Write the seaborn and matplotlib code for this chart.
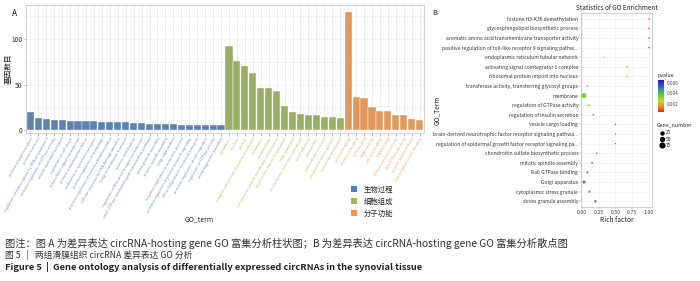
import numpy as np
import pandas as pd
import matplotlib
matplotlib.use("Agg")
import matplotlib.pyplot as plt
from matplotlib.colors import LinearSegmentedColormap, Normalize
from matplotlib.lines import Line2D
from matplotlib.patches import Patch
import seaborn as sns

# ---- panel A data: GO terms per category and gene counts
bp_terms = ["protein phosphorylation", "protein transport",
            "regulation of transcription by RNA polymerase II",
            "positive regulation of GTPase activity", "vesicle-mediated transport",
            "regulation of cell shape", "intracellular signal transduction",
            "protein autophosphorylation", "endosome to lysosome transport",
            "positive regulation of autophagy",
            "positive regulation of protein phosphorylation",
            "cellular response to DNA damage stimulus", "Golgi to endosome transport",
            "protein stabilization", "regulation of Rho protein signal transduction",
            "small GTPase mediated signal transduction pathway", "stress granule assembly",
            "mitotic spindle assembly", "Golgi organization",
            "negative regulation of apoptotic process",
            "positive regulation of protein kinase B signaling",
            "ER to Golgi vesicle-mediated transport", "positive regulation of cell migration",
            "regulation of GTPase activity", "autophagosome assembly"]
bp_counts = [20, 14, 12, 11, 11, 10, 10, 10, 10, 9, 9, 9, 9, 8, 8, 7, 7, 7, 7, 6, 6, 6, 6, 6, 6]

cc_terms = ["cytoplasm", "nucleus", "cytosol", "integral component of plasma membrane",
            "membrane", "nucleoplasm", "cytoplasmic vesicle membrane of endosome",
            "perinuclear region of cytoplasm", "Golgi apparatus",
            "endoplasmic reticulum membrane", "focal adhesion", "centrosome",
            "extracellular exosome", "cytoplasmic stress granule", "lysosomal membrane"]
cc_counts = [92, 76, 71, 63, 46, 46, 43, 27, 20, 18, 17, 17, 15, 15, 14]

mf_terms = ["protein binding", "metal ion binding", "ATP binding", "RNA binding",
            "zinc ion binding", "DNA binding", "GTPase activator activity", "Rab GTPase binding",
            "protein kinase activity", "transcription factor binding"]
mf_counts = [130, 37, 35, 25, 21, 21, 17, 17, 12.5, 11]

groups = ["生物过程", "细胞组成", "分子功能"]
group_colors = ["#4F81BD", "#9BBB59", "#F79646"]

# ---- panel B data
go_terms = ["histone H3-K36 demethylation", "glycosphingolipid biosynthetic process",
            "aromatic amino acid transmembrane transporter activity",
            "positive regulation of toll-like receptor 9 signaling pathw...",
            "endoplasmic reticulum tubular network", "activating signal cointegrator 1 complex",
            "ribosomal protein import into nucleus",
            "transferase activity, transferring glycosyl groups", "membrane",
            "regulation of GTPase activity", "regulation of insulin secretion",
            "vesicle cargo loading",
            "brain-derived neurotrophic factor receptor signaling pathwa...",
            "regulation of epidermal growth factor receptor signaling pa...",
            "chondroitin sulfate biosynthetic process", "mitotic spindle assembly",
            "Rab GTPase binding", "Golgi apparatus", "cytoplasmic stress granule",
            "stress granule assembly"]
rich_factor = [1.0, 1.0, 1.0, 1.0, 0.33, 0.67, 0.67, 0.08, 0.03, 0.10, 0.17, 0.5, 0.5, 0.5,
               0.22, 0.15, 0.08, 0.03, 0.11, 0.20]
pvalues = [0.0007, 0.0007, 0.0007, 0.0007, 0.0026, 0.0017, 0.0017, 0.0029, 0.0034, 0.0031,
           np.nan, np.nan, np.nan, np.nan, np.nan, np.nan, np.nan, np.nan, np.nan, np.nan]
gene_number = [1, 1, 1, 1, 1, 2, 2, 5, 85, 8, 4, 1, 1, 1, 3, 6, 8, 30, 10, 15]

caption1 = "图注：图 A 为差异表达 circRNA-hosting gene GO 富集分析柱状图；B 为差异表达 circRNA-hosting gene GO 富集分析散点图"
caption2 = "图 5   |   两组滑膜组织 circRNA 差异表达 GO 分析"
caption3 = "Figure 5  |  Gene ontology analysis of differentially expressed circRNAs in the synovial tissue"

sns.set_style("white")
plt.rcParams['font.family'] = ['Noto Sans CJK SC', 'DejaVu Sans']

fig = plt.figure(figsize=(7, 2.81), dpi=100)

# ================= panel A =================
bar_df = pd.DataFrame({
    "term": bp_terms + cc_terms + mf_terms,
    "count": bp_counts + cc_counts + mf_counts,
    "group": [groups[0]] * len(bp_terms) + [groups[1]] * len(cc_terms) + [groups[2]] * len(mf_terms),
})
axA = fig.add_axes([26 / 700, 1 - 133 / 281, 398 / 700, 128 / 281])
sns.barplot(data=bar_df, x="term", y="count", hue="group", hue_order=groups,
            palette=group_colors, dodge=False, width=0.9, legend=False,
            edgecolor="white", linewidth=0.3, ax=axA, zorder=3)
axA.set_xlim(-0.55, len(bar_df) - 0.45)
axA.set_ylim(-3, 137.5)
axA.set_yticks([0, 50, 100])
axA.set_yticks([25, 75, 125], minor=True)
axA.grid(axis="x", color="#e6e6e6", linewidth=0.5, zorder=0)
axA.grid(axis="y", which="both", color="#eeeeee", linewidth=0.4, zorder=0)
axA.set_axisbelow(True)
for s in axA.spines.values():
    s.set_color("#cfcfcf")
    s.set_linewidth(0.6)
axA.tick_params(axis="y", labelsize=4.8, length=1.5, width=0.4, color="#888888",
                labelcolor="#333333", pad=1, left=True)
axA.tick_params(axis="y", which="minor", length=0)
axA.tick_params(axis="x", length=1.8, width=0.4, color="#888888", pad=0.8, bottom=True)
axA.set_xticks(range(len(bar_df)))
axA.set_xticklabels(bar_df["term"], rotation=60, ha="right", rotation_mode="anchor", fontsize=2.7)
lab_colors = dict(zip(groups, group_colors))
for lab, g in zip(axA.get_xticklabels(), bar_df["group"]):
    lab.set_color(lab_colors[g])
    lab.set_alpha(0.85)
axA.set_xlabel("")
axA.set_ylabel("基因数目", fontsize=5.5, color="#222222")
axA.yaxis.set_label_coords(-0.033, 0.5)
fig.text(185 / 700, 1 - 219 / 281, "GO_term", fontsize=5, va="center", color="#222222")
fig.legend(handles=[Patch(facecolor=c, edgecolor="none") for c in group_colors], labels=groups,
           loc="upper left", bbox_to_anchor=(347 / 700, 1 - 182 / 281), frameon=False,
           fontsize=5.3, handlelength=0.8, handleheight=0.8, handletextpad=1.0, labelspacing=0.55,
           borderpad=0)
fig.text(12 / 700, 1 - 13 / 281, "A", fontsize=6, va="center", color="#222222")

# ================= panel B =================
dot_df = pd.DataFrame({"term": go_terms, "rich": rich_factor, "pvalue": pvalues,
                       "genes": gene_number})
dot_df["pos"] = np.arange(len(dot_df))
axB = fig.add_axes([581 / 700, 1 - 207 / 281, 71 / 700, 194 / 281])
cmap = LinearSegmentedColormap.from_list(
    "pv", ["#e8231e", "#f28a1c", "#c9d32a", "#6fd42c", "#3aa870", "#2f4fd8", "#3b1c9c"])
norm = Normalize(0.0005, 0.0065)
colored = dot_df[dot_df["pvalue"].notna()]
grey = dot_df[dot_df["pvalue"].isna()]
sizes = (1, 13)
size_norm = (1, 85)
sns.scatterplot(data=colored, x="rich", y="pos", hue="pvalue", palette=cmap, hue_norm=norm,
                size="genes", sizes=sizes, size_norm=size_norm, linewidth=0, legend=False,
                ax=axB, zorder=3)
sns.scatterplot(data=grey, x="rich", y="pos", color="#7a7a7a", size="genes", sizes=sizes,
                size_norm=size_norm, linewidth=0, legend=False, ax=axB, zorder=3)
axB.set_xlim(-0.015, 1.045)
axB.set_ylim(len(dot_df) - 0.4, -0.6)
axB.set_yticks(dot_df["pos"])
axB.set_yticklabels(dot_df["term"], fontsize=3.6, color="#333333")
axB.set_xticks([0, 0.25, 0.5, 0.75, 1.0])
axB.set_xticklabels(["0.00", "0.25", "0.50", "0.75", "1.00"], fontsize=3.8, color="#444444")
axB.grid(color="#ececec", linewidth=0.4)
axB.set_axisbelow(True)
for s in axB.spines.values():
    s.set_color("#bdbdbd")
    s.set_linewidth(0.5)
axB.tick_params(length=1.2, width=0.3, color="#888888", pad=0.8, left=True, bottom=True)
axB.set_xlabel("Rich factor", fontsize=4.8, labelpad=1, color="#222222")
axB.set_ylabel("GO_Term", fontsize=4.8, labelpad=2, color="#222222")
axB.yaxis.set_label_coords(-1.97, 0.5)
axB.set_title("Statistics of GO Enrichment", fontsize=4.6, pad=2.5, color="#222222")
fig.text(432 / 700, 1 - 13 / 281, "B", fontsize=5.5, va="center", color="#222222")

# colour bar for pvalue
cax = fig.add_axes([658 / 700, 1 - 112 / 281, 6 / 700, 32 / 281])
cb = fig.colorbar(plt.cm.ScalarMappable(norm=norm, cmap=cmap), cax=cax)
cb.set_ticks([0.002, 0.004, 0.006])
cb.set_ticklabels(["0.002", "0.004", "0.006"])
cb.outline.set_visible(False)
cax.tick_params(labelsize=3.4, length=1, width=0.3, color="white", pad=1, labelcolor="#444444")
fig.text(657 / 700, 1 - 76 / 281, "pvalue", fontsize=3.8, va="center", color="#222222")

# size legend for gene number
def dot_size(n):
    lo, hi = size_norm
    return sizes[0] + (sizes[1] - sizes[0]) * (n - lo) / (hi - lo)

size_handles = [Line2D([], [], marker="o", linestyle="none", color="black",
                       markersize=np.sqrt(dot_size(n))) for n in [25, 50, 75]]
fig.text(657 / 700, 1 - 125 / 281, "Gene_number", fontsize=3.8, va="center", color="#222222")
fig.legend(handles=size_handles, labels=["25", "50", "75"], loc="upper left",
           bbox_to_anchor=(657 / 700, 1 - 128 / 281), frameon=False, fontsize=3.6,
           handlelength=1.0, handletextpad=0.3, labelspacing=0.25, borderpad=0)

# ================= caption =================
fig.text(5 / 700, 1 - 243 / 281, caption1, fontsize=7.35, va="center", color="#333333")
fig.text(5 / 700, 1 - 255 / 281, caption2, fontsize=6.3, va="center", color="#333333")
fig.text(5 / 700, 1 - 267 / 281, caption3, fontsize=6.7, va="center", fontweight="bold",
         color="#222222")

fig.savefig("out.png", dpi=100)
